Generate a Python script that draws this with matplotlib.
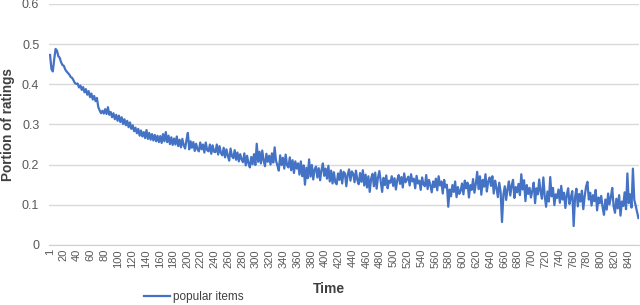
import numpy as np
from matplotlib import pyplot as plt


#  -------------------------------------------  data  ------------------------------------------  #

# time steps (every second category)
time = list(range(1, 856, 2))

popular = [
    0.473, 0.438, 0.432, 0.462, 0.488, 0.484, 0.470, 0.466, 0.455, 0.448,
    0.446, 0.437, 0.432, 0.428, 0.424, 0.418, 0.416, 0.410, 0.403, 0.401,
    0.402, 0.392, 0.397, 0.386, 0.393, 0.380, 0.388, 0.374, 0.383, 0.368,
    0.377, 0.362, 0.371, 0.358, 0.366, 0.343, 0.335, 0.328, 0.334, 0.327,
    0.338, 0.326, 0.343, 0.324, 0.331, 0.318, 0.328, 0.313, 0.324, 0.309,
    0.322, 0.306, 0.318, 0.301, 0.313, 0.298, 0.309, 0.293, 0.305, 0.289,
    0.298, 0.283, 0.292, 0.278, 0.289, 0.272, 0.285, 0.270, 0.281, 0.266,
    0.286, 0.264, 0.279, 0.262, 0.276, 0.260, 0.274, 0.258, 0.272, 0.256,
    0.271, 0.254, 0.276, 0.258, 0.281, 0.256, 0.272, 0.251, 0.268, 0.249,
    0.265, 0.250, 0.270, 0.246, 0.262, 0.243, 0.264, 0.248, 0.240, 0.261,
    0.279, 0.238, 0.258, 0.242, 0.256, 0.234, 0.252, 0.238, 0.233, 0.255,
    0.238, 0.250, 0.230, 0.255, 0.236, 0.233, 0.250, 0.227, 0.248, 0.232,
    0.231, 0.250, 0.225, 0.246, 0.229, 0.223, 0.242, 0.218, 0.238, 0.222,
    0.210, 0.240, 0.221, 0.216, 0.236, 0.212, 0.230, 0.208, 0.226, 0.213,
    0.206, 0.228, 0.198, 0.222, 0.203, 0.193, 0.219, 0.201, 0.226, 0.199,
    0.252, 0.207, 0.232, 0.203, 0.235, 0.210, 0.196, 0.227, 0.207, 0.222,
    0.200, 0.228, 0.205, 0.243, 0.209, 0.198, 0.185, 0.223, 0.199, 0.217,
    0.190, 0.225, 0.198, 0.193, 0.218, 0.186, 0.211, 0.179, 0.208, 0.190,
    0.203, 0.175, 0.208, 0.171, 0.198, 0.150, 0.192, 0.166, 0.213, 0.170,
    0.199, 0.163, 0.188, 0.195, 0.168, 0.191, 0.161, 0.187, 0.203, 0.172,
    0.190, 0.165, 0.197, 0.158, 0.185, 0.153, 0.181, 0.156, 0.151, 0.178,
    0.162, 0.186, 0.153, 0.182, 0.178, 0.146, 0.175, 0.188, 0.160, 0.183,
    0.177, 0.156, 0.185, 0.162, 0.151, 0.179, 0.157, 0.186, 0.148, 0.175,
    0.143, 0.171, 0.132, 0.165, 0.177, 0.146, 0.180, 0.140, 0.168, 0.184,
    0.158, 0.132, 0.167, 0.149, 0.173, 0.141, 0.160, 0.155, 0.171, 0.147,
    0.166, 0.138, 0.162, 0.174, 0.152, 0.169, 0.143, 0.178, 0.156, 0.163,
    0.170, 0.148, 0.176, 0.158, 0.165, 0.141, 0.172, 0.153, 0.160, 0.137,
    0.168, 0.151, 0.146, 0.174, 0.139, 0.162, 0.149, 0.131, 0.158, 0.144,
    0.165, 0.136, 0.171, 0.148, 0.158, 0.128, 0.162, 0.143, 0.150, 0.095,
    0.138, 0.121, 0.149, 0.132, 0.158, 0.119, 0.144, 0.127, 0.135, 0.153,
    0.126, 0.160, 0.141, 0.155, 0.118, 0.149, 0.137, 0.164, 0.130, 0.152,
    0.182, 0.139, 0.171, 0.125, 0.162, 0.145, 0.176, 0.133, 0.158, 0.168,
    0.147, 0.171, 0.128, 0.160, 0.142, 0.119, 0.155, 0.132, 0.057, 0.125,
    0.146, 0.112, 0.139, 0.158, 0.123, 0.148, 0.162, 0.117, 0.144, 0.131,
    0.152, 0.124, 0.176, 0.138, 0.161, 0.109, 0.149, 0.127, 0.142, 0.118,
    0.135, 0.155, 0.104, 0.141, 0.126, 0.163, 0.132, 0.115, 0.168, 0.122,
    0.095, 0.133, 0.108, 0.169, 0.121, 0.142, 0.099, 0.126, 0.117, 0.138,
    0.105, 0.147, 0.113, 0.130, 0.092, 0.124, 0.141, 0.102, 0.119, 0.134,
    0.047, 0.118, 0.140, 0.096, 0.127, 0.108, 0.135, 0.089, 0.121, 0.145,
    0.157, 0.113, 0.130, 0.098, 0.124, 0.109, 0.137, 0.086, 0.118, 0.104,
    0.122, 0.094, 0.075, 0.113, 0.088, 0.128, 0.101, 0.119, 0.142, 0.096,
    0.080, 0.115, 0.091, 0.124, 0.073, 0.108, 0.097, 0.131, 0.089, 0.178,
    0.104, 0.126, 0.093, 0.190, 0.112, 0.098, 0.082, 0.067,
]

xticks = [1] + list(range(20, 841, 20))
yticks = [0, 0.1, 0.2, 0.3, 0.4, 0.5, 0.6]


#  -------------------------------------------  plot  ------------------------------------------  #

plt.rcParams.update({"font.family": "Liberation Sans"})

fig = plt.figure(figsize=(6.4, 3.05), dpi=100)
ax = fig.add_axes([0.0766, 0.197, 0.922, 0.79])

ax.plot(time, popular, '-', c="#4472C4", lw=1.6, label="popular items")

ax.set_xlim((-0.5, 856))
ax.set_ylim((0, 0.6))

ax.set_yticks(yticks)
ax.set_yticklabels(["0", "0.1", "0.2", "0.3", "0.4", "0.5", "0.6"])
ax.set_xticks(xticks)
ax.set_xticklabels([str(t) for t in xticks], rotation=90)

ax.grid(axis='y', color="#d9d9d9", lw=1)
ax.set_axisbelow(True)
for s in ("top", "right", "left"):
    ax.spines[s].set_visible(False)
ax.spines["bottom"].set_color("#d0d0d0")

ax.tick_params(axis='y', length=0, pad=7, labelsize=9, labelcolor="#595959")
ax.tick_params(axis='x', length=0, pad=3, labelsize=8, labelcolor="#595959")

ax.set_xlabel("Time", fontsize=10, fontweight='bold', color="#404040")
ax.xaxis.set_label_coords(0.475, -0.155)
ax.set_ylabel("Portion of ratings", fontsize=9.8, fontweight='bold', color="#404040", labelpad=5)

ax.legend(loc="center left", bbox_to_anchor=(0.208, 0.026), bbox_transform=fig.transFigure,
          frameon=False, fontsize=8.5, handlelength=2.2, handletextpad=0.3, labelcolor="#404040")

plt.savefig("out.png", dpi=100)
